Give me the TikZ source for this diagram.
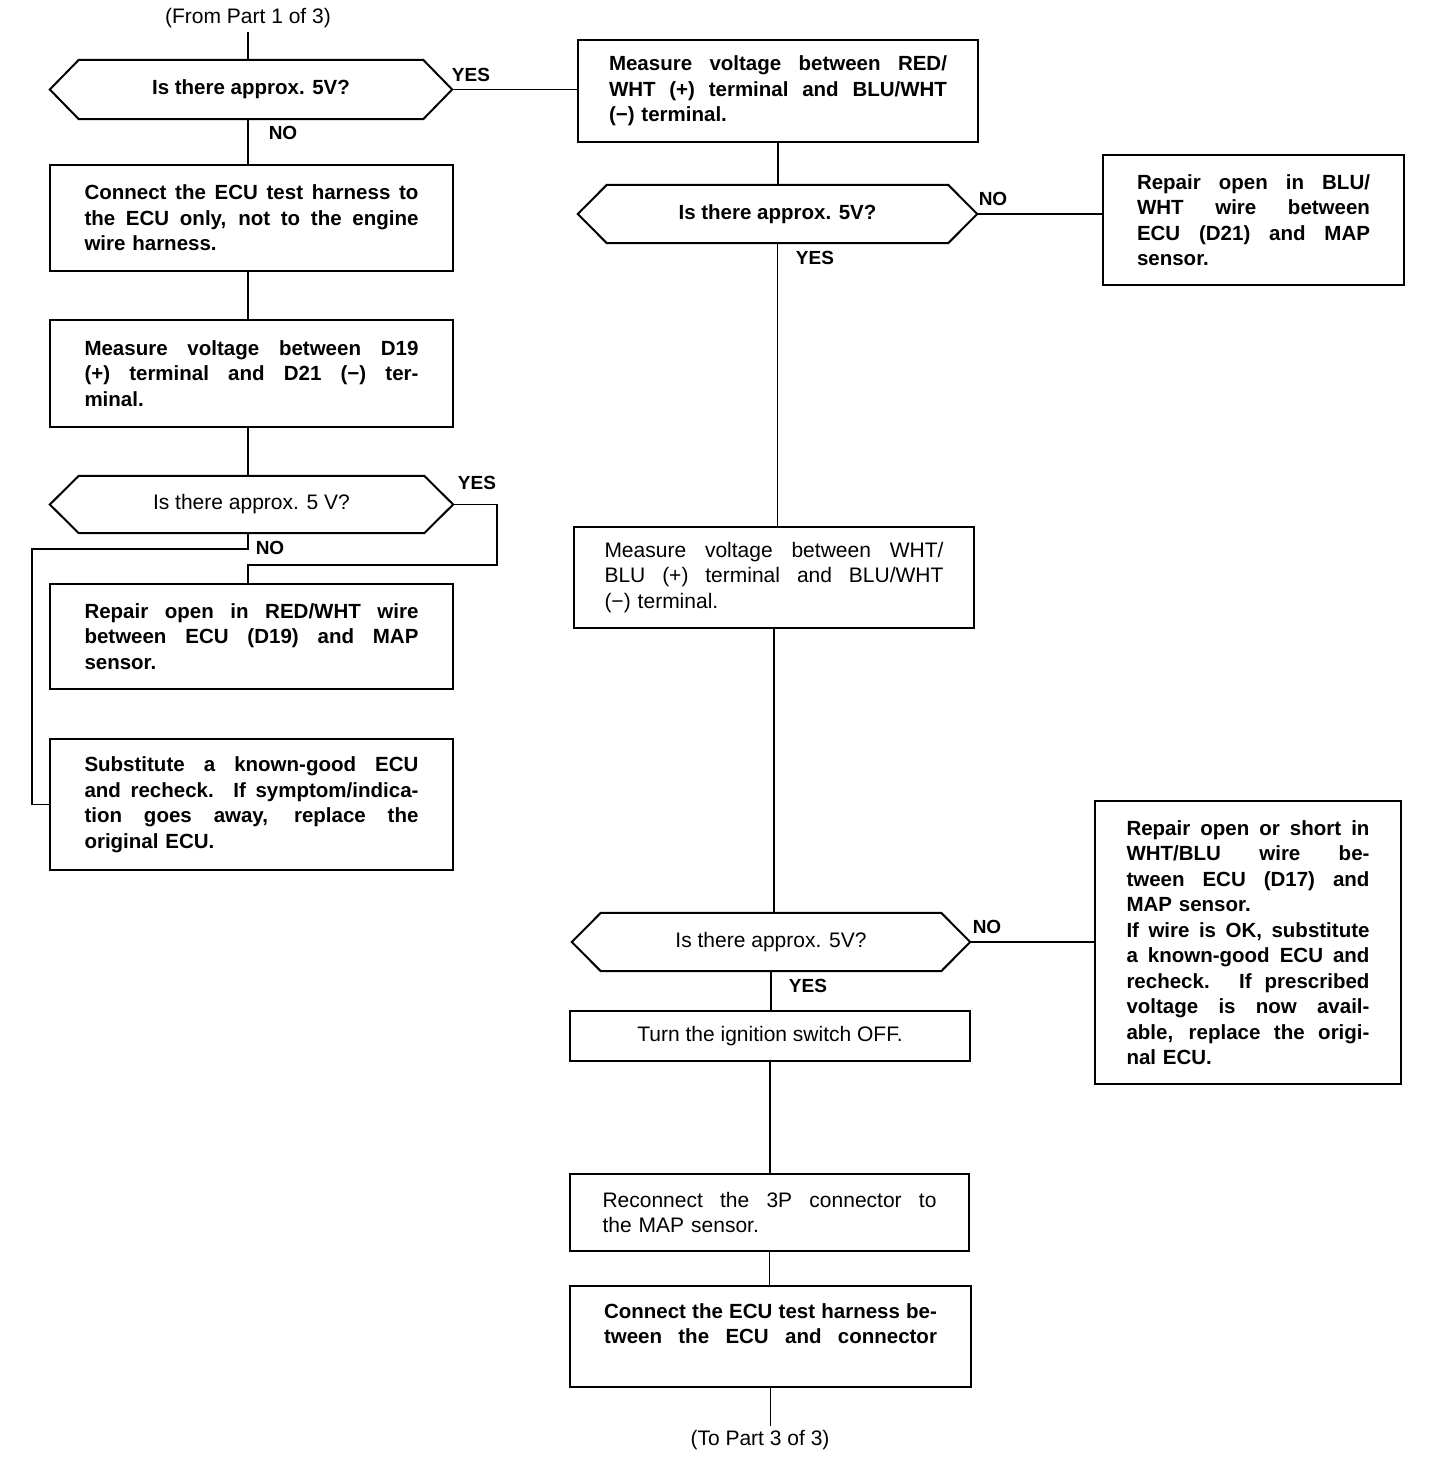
\documentclass[tikz,border=0pt]{standalone}
\usepackage{fontspec}
\setmainfont{Liberation Sans}
\newlength\jwlen
\newcommand\J[1]{{\spaceskip=0pt\xspaceskip=0pt\makebox[\jwlen][s]{#1}}}
\newcommand\hexout[1]{\draw[hexline] (#1.north west) -- (#1.north east) -- (#1r) -- (#1.south east) -- (#1.south west) -- (#1l) -- cycle;}
\begin{document}
\begin{tikzpicture}[x=1pt,y=-1pt,
  bf/.style={font=\fontsize{20.5}{25.5}\selectfont\bfseries},
  rg/.style={font=\fontsize{21}{25.5}\selectfont},
  box/.style={draw, line width=2.2pt, align=left, inner sep=0pt},
  jw/.style={text width=#1, execute at begin node={\setlength{\jwlen}{#1}}},
  hexb/.style={inner sep=0pt},
  lbl/.style={font=\fontsize{19}{22}\selectfont\bfseries, inner sep=0pt},
  term/.style={font=\fontsize{21}{24}\selectfont, inner sep=4pt},
  conn/.style={line width=1.9pt},
  hexline/.style={line width=2pt, line join=miter}]
\fill[white] (0,0) rectangle (1440,1470);
\useasboundingbox (0,0) rectangle (1440,1470);

% ---------- left column ----------
\node[term] (f1) at (248,18) {(From Part 1 of 3)};

\node[hexb, bf, minimum width=344pt, minimum height=59pt] (h1) at (251,89.5) {Is there approx. 5V?};
\coordinate (h1r) at ([xshift=29pt]h1.east);
\coordinate (h1l) at ([xshift=-29pt]h1.west);
\hexout{h1}

\node[box, bf, jw=334pt, minimum width=403pt, minimum height=106pt] (a1) at (251.5,218) {%
\J{Connect the ECU test harness to}\\
\J{the ECU only, not to the engine}\\
wire harness.};

\node[box, bf, jw=334pt, minimum width=403pt, minimum height=107pt] (a2) at (251.5,373.5) {%
\J{Measure voltage between D19}\\
\J{(+) terminal and D21 (−) ter-}\\
minal.};

\node[hexb, rg, minimum width=345pt, minimum height=57pt] (h2) at (251.5,504.5) {Is there approx. 5 V?};
\coordinate (h2r) at ([xshift=29pt]h2.east);
\coordinate (h2l) at ([xshift=-29pt]h2.west);
\hexout{h2}

\node[box, bf, jw=334pt, minimum width=403pt, minimum height=105pt] (a3) at (251.5,636.5) {%
\J{Repair open in RED/WHT wire}\\
\J{between ECU (D19) and MAP}\\
sensor.};

\node[box, bf, jw=334pt, minimum width=403pt, minimum height=131pt] (a4) at (251.5,804.5) {%
\J{Substitute a known-good ECU}\\
\J{and recheck. If symptom/indica-}\\
\J{tion goes away, replace the}\\
original ECU.};

% ---------- right column ----------
\node[box, bf, jw=338pt, minimum width=400pt, minimum height=102pt] (b1) at (778,91) {%
\J{Measure voltage between RED/}\\
\J{WHT (+) terminal and BLU/WHT}\\
(−) terminal.};

\node[hexb, bf, minimum width=341pt, minimum height=58pt] (h3) at (777.5,214) {Is there approx. 5V?};
\coordinate (h3r) at ([xshift=29pt]h3.east);
\coordinate (h3l) at ([xshift=-29pt]h3.west);
\hexout{h3}

\node[box, bf, jw=233pt, minimum width=301pt, minimum height=130pt] (b2) at (1253.5,220) {%
\J{Repair open in BLU/}\\
\J{WHT wire between}\\
\J{ECU (D21) and MAP}\\
sensor.};

\node[box, rg, jw=339pt, minimum width=400pt, minimum height=101pt] (b3) at (774,577.5) {%
\J{Measure voltage between WHT/}\\
\J{BLU (+) terminal and BLU/WHT}\\
(−) terminal.};

\node[hexb, rg, minimum width=340pt, minimum height=58pt] (h4) at (771,942) {Is there approx. 5V?};
\coordinate (h4r) at ([xshift=29pt]h4.east);
\coordinate (h4l) at ([xshift=-29pt]h4.west);
\hexout{h4}

\node[box, bf, jw=243pt, minimum width=306pt, minimum height=283pt] (b4) at (1248,942.5) {%
\J{Repair open or short in}\\
\J{WHT/BLU wire be-}\\
\J{tween ECU (D17) and}\\
MAP sensor.\\
\J{If wire is OK, substitute}\\
\J{a known-good ECU and}\\
\J{recheck. If prescribed}\\
\J{voltage is now avail-}\\
\J{able, replace the origi-}\\
nal ECU.};

\node[box, rg, align=center, minimum width=400pt, minimum height=50pt] (b5) at (770,1036) {Turn the ignition switch OFF.};

\node[box, rg, jw=334pt, minimum width=399pt, minimum height=77pt] (b6) at (769.5,1212.5) {%
\J{Reconnect the 3P connector to}\\
the MAP sensor.};

\node[box, bf, jw=333pt, minimum width=401pt, minimum height=101pt] (b7) at (770.5,1336.5) {%
\J{Connect the ECU test harness be-}\\
\J{tween the ECU and connector}\\
\mbox{}};

\node[term] (t3) at (760,1440) {(To Part 3 of 3)};

% ---------- labels ----------
\node[lbl] (y1) at (471,75) {YES};
\node[lbl] (n1) at (283,133) {NO};
\node[lbl] (y2) at (477,483) {YES};
\node[lbl] (n2) at (270,548) {NO};
\node[lbl] (n3) at (993,199) {NO};
\node[lbl] (y3) at (815,258) {YES};
\node[lbl] (n4) at (987,927) {NO};
\node[lbl] (y4) at (808,986) {YES};

% ---------- connectors ----------
\coordinate (c1) at (32,549);
\coordinate (c2) at (497,565);
\draw[conn] (f1.south) -- (f1.south |- h1.north);
\draw[conn] (h1r) -- (h1r -| b1.west);
\draw[conn] (h1.south -| f1) -- (a1.north -| f1);
\draw[conn] (a1.south -| f1) -- (a2.north -| f1);
\draw[conn] (a2.south -| f1) -- (h2.north -| f1);
\draw[conn] (h2.south -| f1) |- (c1) |- (a4.west);
\draw[conn] (h2r) -| (c2) -| (a3.north -| f1);

\draw[conn] (b1.south) -- (b1.south |- h3.north);
\draw[conn] (h3r) -- (h3r -| b2.west);
\draw[conn] (h3.south) -- (h3.south |- b3.north);
\draw[conn] (b3.south) -- (b3.south |- h4.north);
\draw[conn] (h4r) -- (h4r -| b4.west);
\draw[conn] (h4.south) -- (h4.south |- b5.north);
\draw[conn] (b5.south) -- (b5.south |- b6.north);
\draw[conn] (b6.south) -- (b6.south |- b7.north);
\draw[conn] (b7.south) -- (b7.south |- t3.north);
\end{tikzpicture}
\end{document}
